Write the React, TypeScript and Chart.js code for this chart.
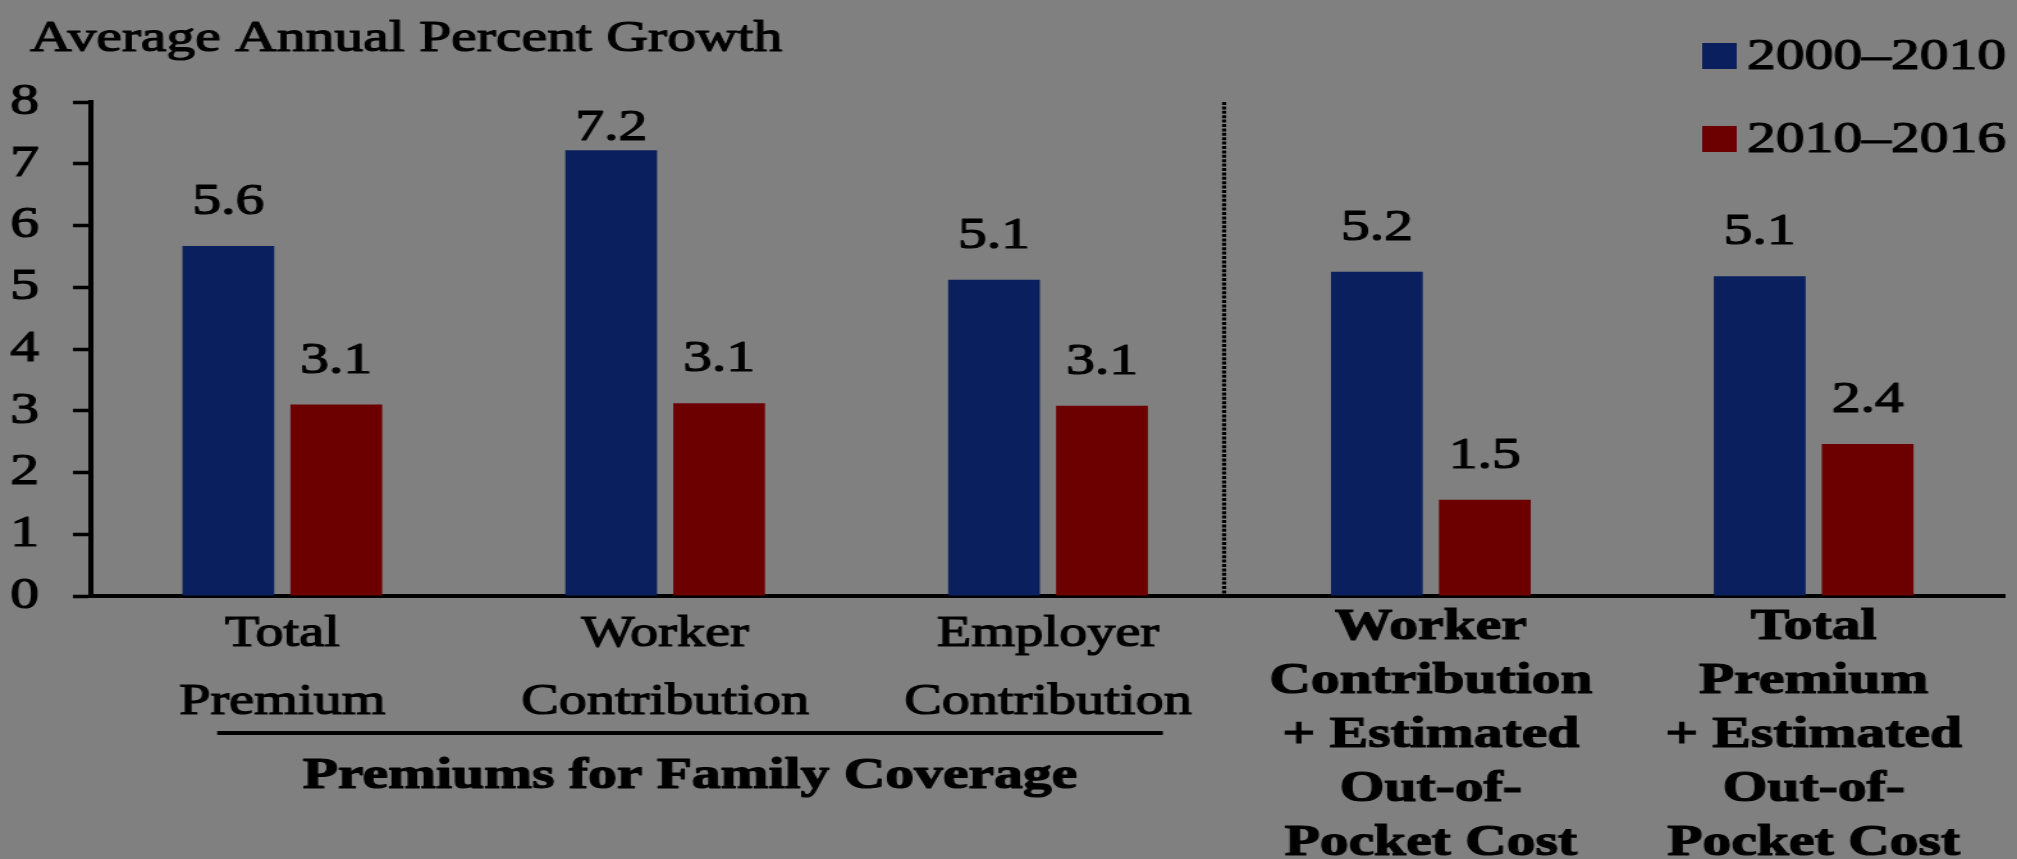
import React, { useEffect, useRef } from 'react';
import { Chart, registerables } from 'chart.js';

Chart.register(...registerables);

// ---------- data ----------
const categories: string[][] = [
  ['Total', 'Premium'],
  ['Worker', 'Contribution'],
  ['Employer', 'Contribution'],
  ['Worker', 'Contribution', '+ Estimated', 'Out-of-', 'Pocket Cost'],
  ['Total', 'Premium', '+ Estimated', 'Out-of-', 'Pocket Cost'],
];
const boldCategory = [false, false, false, true, true];
const seriesLabels = ['2000\u20132010', '2010\u20132016'];
// bar heights as drawn in the picture
const values2000to2010 = [5.67, 7.22, 5.12, 5.25, 5.18];
const values2010to2016 = [3.1, 3.12, 3.08, 1.56, 2.46];
// value labels as printed in the picture
const labels2000to2010 = ['5.6', '7.2', '5.1', '5.2', '5.1'];
const labels2010to2016 = ['3.1', '3.1', '3.1', '1.5', '2.4'];
const valueLabels = [labels2000to2010, labels2010to2016];
const yMin = 0;
const yMax = 8;
const yStep = 1;
const titleText = 'Average Annual Percent Growth';
const groupLabel = 'Premiums for Family Coverage';
const groupSpan = [-0.17, 2.3]; // in category units
const separatorAt = 2.46; // in category units

// ---------- style ----------
const FONT = "'Liberation Serif', 'Times New Roman', serif";
const BLUE = '#0a1f5e';
const RED = '#6c0000';
const TEXT = '#000000';
const BG = '#808080';
const STROKE = 1.2;
const CANVAS_W = 1576;
const CANVAS_H = 859;
const STRETCH = 2017 / CANVAS_W;

function heavyText(ctx: CanvasRenderingContext2D, s: string, x: number, y: number) {
  ctx.fillText(s, x, y);
  ctx.strokeText(s, x, y);
}

const annotations = {
  id: 'annotations',
  afterDraw(chart: any) {
    const { ctx, chartArea, scales } = chart;
    const xs = scales.x;
    ctx.save();
    ctx.fillStyle = TEXT;
    ctx.strokeStyle = TEXT;
    ctx.lineWidth = STROKE;
    ctx.lineJoin = 'round';

    // title
    ctx.font = `45px ${FONT}`;
    ctx.textAlign = 'left';
    ctx.textBaseline = 'alphabetic';
    heavyText(ctx, titleText, 23.5, 51);

    // value labels
    ctx.textAlign = 'center';
    chart.data.datasets.forEach((ds: any, di: number) => {
      chart.getDatasetMeta(di).data.forEach((el: any, i: number) => {
        const y = Math.max(el.y - 32, chartArea.top + 38);
        heavyText(ctx, valueLabels[di][i], el.x, y);
      });
    });

    // dotted separator
    const sx = xs.getPixelForValue(separatorAt);
    ctx.save();
    ctx.lineWidth = 3.2;
    ctx.setLineDash([3, 1.4]);
    ctx.beginPath();
    ctx.moveTo(sx, chartArea.top);
    ctx.lineTo(sx, chartArea.bottom);
    ctx.stroke();
    ctx.restore();

    // group bracket line + label
    const gx0 = xs.getPixelForValue(groupSpan[0]);
    const gx1 = xs.getPixelForValue(groupSpan[1]);
    const gy = chartArea.bottom + 137;
    ctx.save();
    ctx.lineWidth = 4;
    ctx.beginPath();
    ctx.moveTo(gx0, gy);
    ctx.lineTo(gx1, gy);
    ctx.stroke();
    ctx.restore();
    ctx.font = `bold 45px ${FONT}`;
    ctx.textAlign = 'center';
    ctx.textBaseline = 'alphabetic';
    heavyText(ctx, groupLabel, (gx0 + gx1) / 2, chartArea.bottom + 192);

    // legend
    ctx.font = `45px ${FONT}`;
    ctx.textAlign = 'left';
    ctx.textBaseline = 'middle';
    const textX = 1365;
    chart.data.datasets.forEach((ds: any, di: number) => {
      const cy = 56 + di * 83;
      ctx.fillStyle = ds.backgroundColor;
      ctx.fillRect(textX - 35, cy - 13, 27, 26);
      ctx.fillStyle = TEXT;
      heavyText(ctx, ds.label, textX, cy + 1);
    });

    ctx.restore();
  },
};

export default function App() {
  const canvasRef = useRef<HTMLCanvasElement>(null);

  useEffect(() => {
    document.body.style.margin = '0';
    const canvas = canvasRef.current;
    if (!canvas) return;
    Chart.defaults.font.family = FONT;
    const chart = new Chart(canvas, {
      type: 'bar',
      data: {
        labels: categories,
        datasets: [
          {
            label: seriesLabels[0],
            data: values2000to2010,
            backgroundColor: BLUE,
            borderWidth: 0,
            categoryPercentage: 0.564,
            barPercentage: 0.85,
          },
          {
            label: seriesLabels[1],
            data: values2010to2016,
            backgroundColor: RED,
            borderWidth: 0,
            categoryPercentage: 0.564,
            barPercentage: 0.85,
          },
        ],
      },
      options: {
        responsive: false,
        animation: false,
        devicePixelRatio: 1,
        layout: { padding: { top: 102, left: 8, right: 9.3, bottom: 0 } },
        plugins: {
          legend: { display: false },
          title: { display: false },
          tooltip: { enabled: false },
        },
        scales: {
          x: {
            grid: { display: false },
            border: { display: true, color: TEXT, width: 4 },
            ticks: {
              color: TEXT,
              textStrokeColor: TEXT,
              textStrokeWidth: STROKE,
              padding: -4,
              maxRotation: 0,
              minRotation: 0,
              autoSkip: false,
              font: (ctx: any) =>
                boldCategory[ctx.index]
                  ? { family: FONT, size: 45, weight: 'bold', lineHeight: '54px' }
                  : { family: FONT, size: 44, weight: 'normal', lineHeight: '68px' },
            },
            afterFit: (s: any) => {
              s.height = 263;
            },
          },
          y: {
            min: yMin,
            max: yMax,
            ticks: {
              stepSize: yStep,
              color: TEXT,
              textStrokeColor: TEXT,
              textStrokeWidth: STROKE,
              padding: 26.4,
              font: { family: FONT, size: 45 },
            },
            grid: {
              drawOnChartArea: false,
              drawTicks: true,
              tickLength: 14,
              tickWidth: 3.5,
              tickColor: TEXT,
              color: TEXT,
            },
            border: { display: true, color: TEXT, width: 4 },
            afterFit: (s: any) => {
              s.width = 63;
            },
          },
        },
      },
      plugins: [annotations],
    } as any);
    return () => chart.destroy();
  }, []);

  return (
    <div
      style={{
        position: 'fixed',
        left: 0,
        top: 0,
        width: 2017,
        height: 859,
        background: BG,
        overflow: 'hidden',
      }}
    >
      <div
        style={{
          width: CANVAS_W,
          height: CANVAS_H,
          transform: `scaleX(${STRETCH})`,
          transformOrigin: '0 0',
        }}
      >
        <canvas
          ref={canvasRef}
          width={CANVAS_W}
          height={CANVAS_H}
          style={{ width: `${CANVAS_W}px`, height: `${CANVAS_H}px`, display: 'block' }}
        />
      </div>
    </div>
  );
}
